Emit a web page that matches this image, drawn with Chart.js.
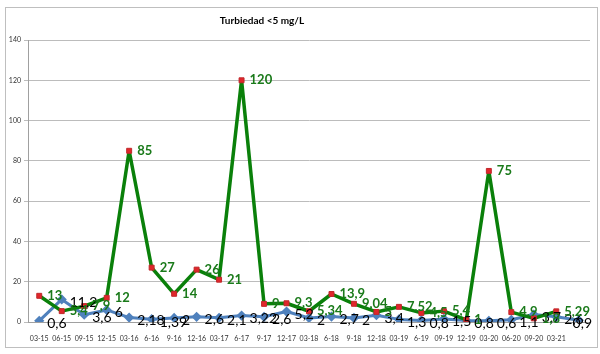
<!DOCTYPE html>
<html>
<head>
<meta charset="utf-8">
<script src="https://cdn.jsdelivr.net/npm/chart.js@4"></script>
<style>
  html, body { margin: 0; padding: 0; background: #fff; }
  #wrap { width: 600px; height: 354px; position: relative; }
</style>
</head>
<body>
<div id="wrap"><canvas id="turbChart"></canvas></div>
<script>
const labels = ['03-15', '06-15', '09-15', '12-15', '03-16', '6-16', '9-16', '12-16', '03-17', '6-17',
    '9-17', '12-17', '03-18', '6-18', '9-18', '12-18', '03-19', '6-19', '09-19', '12-19',
    '03-20', '06-20', '09-20', '03-21', ''];
const blueValues = [0.6, 11.2, 3.6, 6, 2.18, 1.39, 2, 2.6, 2.1, 3.22,
    2.6, 5.2, 2, 2.7, 2, 3.4, 1.3, 0.8, 1.5, 0.8,
    0.6, 1.1, 3.7, 2.6, 0.9];
const greenValues = [13, 5.4, 7.9, 12, 85, 27, 14, 26, 21, 120,
    9, 9.3, 5.34, 13.9, 9.04, 5, 7.52, 4.5, 5.4, 1,
    75, 4.9, 1.8, 5.29, null];
const yTicks = [0, 20, 40, 60, 80, 100, 120, 140];

const fmt = v => String(v).replace('.', ',');

// value labels to the right of each point + title + frame
const extras = {
    id: 'extras',
    afterDatasetsDraw(chart) {
        const c = chart.ctx;
        const maxX = chart.chartArea.right + 2;
        c.save();
        c.textBaseline = 'middle';
        c.textAlign = 'left';
        chart.data.datasets.forEach((ds, i) => {
            const meta = chart.getDatasetMeta(i);
            meta.data.forEach((pt, j) => {
                const v = ds.data[j];
                if (v == null) return;
                const txt = fmt(v);
                if (i === 1) {
                    c.font = 'bold 13px Lato, "Open Sans", sans-serif';
                    c.fillStyle = '#1a7a1a';
                } else {
                    c.font = '14px Lato, "Open Sans", sans-serif';
                    c.fillStyle = '#000';
                }
                const w = c.measureText(txt).width;
                const x = Math.min(pt.x + 8, maxX - w);
                c.fillText(txt, x, i === 1 ? pt.y : pt.y + 3);
            });
        });
        c.restore();
    },
    afterDraw(chart) {
        const c = chart.ctx;
        c.save();
        c.font = 'bold 10px Lato, "Open Sans", sans-serif';
        c.fillStyle = '#000';
        c.textAlign = 'center';
        c.textBaseline = 'middle';
        c.fillText('Turbiedad <5 mg/L', 262, 21);
        c.strokeStyle = '#bfbfbf';
        c.lineWidth = 1;
        c.strokeRect(5.5, 7.5, 592, 340);
        c.restore();
    }
};

new Chart(document.getElementById('turbChart'), {
    type: 'line',
    data: {
        labels: labels,
        datasets: [{
            data: blueValues,
            borderColor: '#4f81bd',
            backgroundColor: '#4f81bd',
            borderWidth: 3,
            borderJoinStyle: 'round',
            pointStyle: 'rectRot',
            pointRadius: 3,
            tension: 0,
            order: 2
        }, {
            data: greenValues,
            borderColor: '#0a800a',
            backgroundColor: '#e0262b',
            pointBorderColor: '#c0282b',
            pointBorderWidth: 1,
            borderWidth: 3.5,
            borderJoinStyle: 'round',
            pointStyle: 'rect',
            pointRadius: 3.5,
            tension: 0,
            order: 1
        }]
    },
    options: {
        responsive: true,
        maintainAspectRatio: false,
        animation: false,
        layout: { padding: { left: 0, right: 10, top: 40, bottom: 0 } },
        plugins: {
            legend: { display: false },
            tooltip: { enabled: false }
        },
        scales: {
            x: {
                offset: true,
                grid: { display: false },
                border: { color: '#a0a0a0' },
                ticks: {
                    font: { size: 7, family: 'Lato, "Open Sans", sans-serif' },
                    color: '#333',
                    maxRotation: 0,
                    autoSkip: false,
                    padding: 5
                },
                afterFit: s => { s.height = 32; }
            },
            y: {
                min: 0,
                max: 140,
                afterBuildTicks: s => { s.ticks = yTicks.map(v => ({ value: v })); },
                grid: { color: '#bcbcbc', tickLength: 4 },
                border: { color: '#a0a0a0' },
                ticks: {
                    font: { size: 7, family: 'Lato, "Open Sans", sans-serif' },
                    color: '#333',
                    padding: 3
                },
                afterFit: s => { s.width = 28; }
            }
        }
    },
    plugins: [extras]
});
</script>
</body>
</html>
